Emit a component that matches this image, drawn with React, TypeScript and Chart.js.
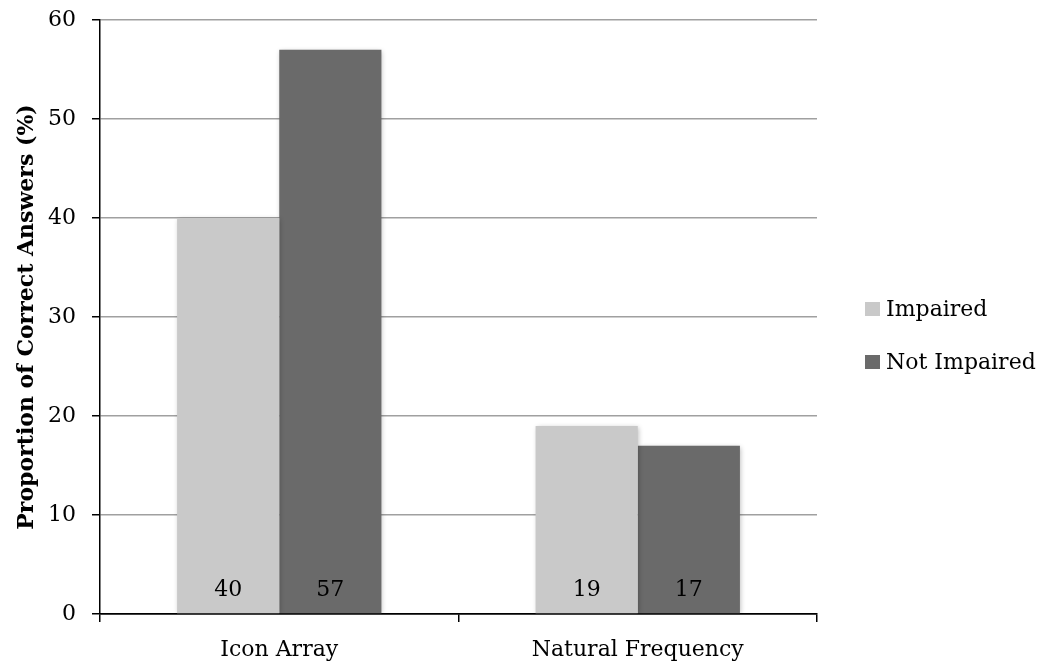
import React, { useEffect, useRef } from "react";
import { Chart, registerables } from "chart.js";

Chart.register(...registerables);

const categories = ["Icon Array", "Natural Frequency"];
const seriesNames = ["Impaired", "Not Impaired"];
const impaired = [40, 19];
const notImpaired = [57, 17];
const seriesColors = ["#c9c9c9", "#6a6a6a"];
const yTicks = [0, 10, 20, 30, 40, 50, 60];
const yTitle = "Proportion of Correct Answers (%)";

const FONT = "'DejaVu Serif', 'Liberation Serif', serif";
const SIZE = 22;

// Soft shadow behind the bars
const barShadow = {
  id: "barShadow",
  beforeDatasetsDraw(chart: any) {
    const ctx = chart.ctx;
    ctx.save();
    ctx.shadowColor = "rgba(0,0,0,0.28)";
    ctx.shadowBlur = 5;
    ctx.shadowOffsetX = 1;
    ctx.shadowOffsetY = 1;
  },
  afterDatasetsDraw(chart: any) {
    chart.ctx.restore();
  },
};

// Value labels near the base of each bar
const baseLabels = {
  id: "baseLabels",
  afterDatasetsDraw(chart: any) {
    const ctx = chart.ctx;
    const yScale = chart.scales.y;
    ctx.save();
    ctx.font = `${SIZE}px ${FONT}`;
    ctx.fillStyle = "#000";
    ctx.textAlign = "center";
    ctx.textBaseline = "middle";
    chart.data.datasets.forEach((ds: any, i: number) => {
      const meta = chart.getDatasetMeta(i);
      meta.data.forEach((bar: any, j: number) => {
        ctx.fillText(String(ds.data[j]), bar.x, yScale.getPixelForValue(0) - 24);
      });
    });
    ctx.restore();
  },
};

// Legend at the right of the plot
const sideLegend = {
  id: "sideLegend",
  afterDraw(chart: any) {
    const ctx = chart.ctx;
    const x = chart.chartArea.right + 48;
    const ys = [309, 362];
    ctx.save();
    ctx.font = `${SIZE}px ${FONT}`;
    ctx.textBaseline = "middle";
    ctx.textAlign = "left";
    chart.data.datasets.forEach((ds: any, i: number) => {
      const y = ys[i];
      ctx.fillStyle = ds.backgroundColor;
      ctx.fillRect(x, y - 7, 15, 14);
      ctx.fillStyle = "#000";
      ctx.fillText(ds.label, x + 21, y + 1);
    });
    ctx.restore();
  },
};

export default function App() {
  const canvasRef = useRef<HTMLCanvasElement>(null);

  useEffect(() => {
    document.body.style.margin = "0";
    const chart = new Chart(canvasRef.current!, {
      type: "bar",
      data: {
        labels: categories,
        datasets: [
          { label: seriesNames[0], data: impaired, backgroundColor: seriesColors[0] },
          { label: seriesNames[1], data: notImpaired, backgroundColor: seriesColors[1] },
        ],
      },
      options: {
        animation: false,
        responsive: false,
        events: [],
        layout: { padding: { top: 20, right: 225, bottom: 0, left: 0 } },
        datasets: {
          bar: { categoryPercentage: 0.57, barPercentage: 1.0 },
        },
        plugins: {
          legend: { display: false },
          tooltip: { enabled: false },
        },
        scales: {
          x: {
            offset: true,
            grid: {
              offset: true,
              drawOnChartArea: false,
              drawTicks: true,
              tickLength: 8,
              color: "#000",
              lineWidth: 1.5,
            },
            border: { color: "#000", width: 1.5 },
            ticks: {
              color: "#000",
              font: { family: FONT, size: SIZE },
              padding: 15,
            },
            afterFit(scale: any) {
              scale.height = 50;
              scale.paddingLeft = 0;
              scale.paddingRight = 0;
            },
          },
          y: {
            min: 0,
            max: 60,
            afterBuildTicks(scale: any) {
              scale.ticks = yTicks.map((v) => ({ value: v }));
            },
            grid: {
              color: (c: any) => (c.tick && c.tick.value === 0 ? "#000" : "#a0a0a0"),
              lineWidth: 1.5,
              drawTicks: true,
              tickLength: 8,
              tickColor: "#000",
            },
            border: { color: "#000", width: 1.5 },
            ticks: {
              color: "#000",
              font: { family: FONT, size: SIZE },
              padding: 16,
            },
            title: {
              display: true,
              text: yTitle,
              color: "#000",
              font: { family: FONT, size: 22, weight: "bold" },
              padding: { top: 14, bottom: 4 },
            },
            afterFit(scale: any) {
              scale.width = 100;
              scale.paddingTop = 0;
              scale.paddingBottom = 0;
            },
          },
        },
      },
      plugins: [barShadow, baseLabels, sideLegend],
    });
    return () => chart.destroy();
  }, []);

  return (
    <div style={{ width: 1042, height: 664, background: "#fff" }}>
      <canvas ref={canvasRef} width={1042} height={664} />
    </div>
  );
}
